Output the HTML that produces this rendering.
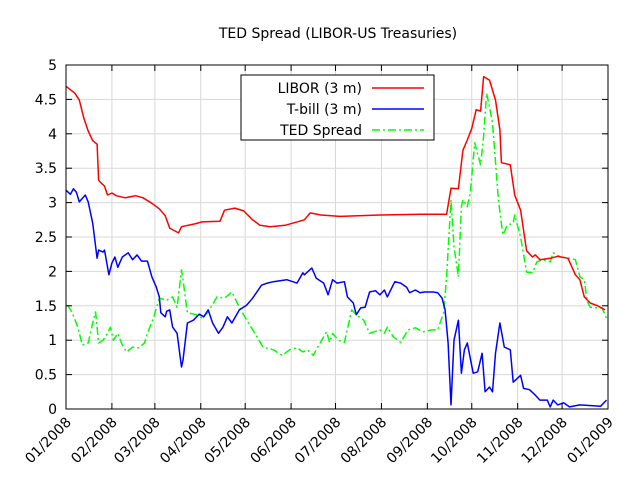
<!DOCTYPE html>
<html><head><meta charset="utf-8"><style>
body{margin:0;background:#fff}
svg text{font-family:"DejaVu Sans","Liberation Sans",sans-serif;font-size:14px;fill:#000}
</style></head><body>
<svg id="c" width="640" height="480" xmlns="http://www.w3.org/2000/svg">
<rect width="640" height="480" fill="#fff"/>
<text x="338" y="38" text-anchor="middle">TED Spread (LIBOR-US Treasuries)</text>
<g id="grid"></g><g id="series"></g><g id="axes"></g>
<g>
<rect x="241" y="75" width="193" height="65" fill="#fff" stroke="#000" stroke-width="1"/>
<text x="362" y="93" text-anchor="end">LIBOR (3 m)</text>
<line x1="372" y1="88" x2="424" y2="88" stroke="#f00" stroke-width="1.5"/>
<text x="362" y="114" text-anchor="end">T-bill (3 m)</text>
<line x1="372" y1="109" x2="424" y2="109" stroke="#00f" stroke-width="1.5"/>
<text x="362" y="135" text-anchor="end">TED Spread</text>
<line x1="372" y1="130" x2="424" y2="130" stroke="#0f0" stroke-width="1.5" stroke-dasharray="8,3,2,3"/>
</g>
</svg>
<script>
const monthDays=[0,31,60,91,121,152,182,213,244,274,305,335,366];
const monthLabels=["01/2008","02/2008","03/2008","04/2008","05/2008","06/2008","07/2008","08/2008","09/2008","10/2008","11/2008","12/2008","01/2009"];
const yTicks=[0,0.5,1,1.5,2,2.5,3,3.5,4,4.5,5];
const yTickLabels=["0","0.5","1","1.5","2","2.5","3","3.5","4","4.5","5"];
const liborDays=[0,6,9,12,15,18,21,22,23,26,28,31,34,40,47,52,58,63,67,70,76,78,87,92,104,107,114,120,126,131,138,148,161,165,172,185,212,239,257,260,265,268,271,274,277,280,282,286,290,293,294,300,303,307,311,315,317,320,327,332,339,344,347,350,354,359,364];
const liborVals=[4.69,4.59,4.49,4.23,4.04,3.90,3.85,3.33,3.30,3.24,3.11,3.14,3.10,3.07,3.10,3.07,2.99,2.91,2.81,2.63,2.56,2.65,2.69,2.72,2.73,2.89,2.92,2.88,2.75,2.67,2.65,2.67,2.75,2.85,2.82,2.80,2.82,2.83,2.83,3.21,3.20,3.76,3.91,4.08,4.35,4.33,4.83,4.78,4.49,4.06,3.58,3.55,3.11,2.89,2.30,2.21,2.24,2.17,2.19,2.22,2.19,1.95,1.88,1.63,1.54,1.50,1.44];
const tbillDays=[0,3,5,7,9,13,15,18,21,22,25,26,29,31,33,35,38,42,45,48,51,55,58,61,63,64,67,68,70,72,75,78,79,82,86,90,93,96,99,103,106,109,112,117,122,126,132,136,140,149,156,160,161,166,169,174,177,180,183,188,190,194,196,199,202,205,209,212,215,217,222,226,230,232,236,239,242,248,251,254,256,258,260,262,265,267,269,271,275,278,281,283,286,288,290,293,296,300,302,307,309,313,317,320,325,327,329,332,336,340,347,361,365];
const tbillVals=[3.18,3.12,3.20,3.15,3.01,3.11,3.01,2.70,2.19,2.31,2.28,2.31,1.95,2.12,2.21,2.06,2.21,2.27,2.17,2.24,2.15,2.15,1.92,1.77,1.63,1.40,1.34,1.42,1.44,1.19,1.10,0.61,0.71,1.25,1.29,1.38,1.34,1.44,1.25,1.10,1.19,1.34,1.25,1.44,1.51,1.61,1.80,1.83,1.85,1.88,1.83,1.98,1.95,2.05,1.90,1.83,1.66,1.88,1.83,1.85,1.63,1.54,1.37,1.47,1.48,1.70,1.72,1.66,1.73,1.63,1.85,1.83,1.77,1.69,1.73,1.69,1.70,1.70,1.69,1.61,1.44,0.96,0.06,1.00,1.29,0.52,0.86,0.96,0.52,0.54,0.81,0.25,0.32,0.25,0.81,1.25,0.90,0.86,0.39,0.49,0.30,0.28,0.20,0.13,0.13,0.03,0.13,0.06,0.09,0.03,0.06,0.04,0.13];
const tedDays=[1,4,8,11,15,18,20,22,25,28,30,32,35,38,41,45,49,53,55,59,63,68,72,75,78,79,82,88,92,96,102,107,112,117,122,129,133,140,146,151,156,160,163,167,170,176,178,180,184,188,193,196,201,205,212,215,217,221,226,231,236,241,247,251,255,257,260,262,265,267,268,271,273,276,280,282,284,286,288,292,295,298,302,303,307,311,315,318,322,327,329,334,340,344,347,350,352,354,359,362,365];
const tedVals=[1.51,1.41,1.19,0.93,0.96,1.25,1.41,0.96,1.00,1.10,1.19,1.00,1.10,0.93,0.83,0.90,0.89,0.96,1.10,1.32,1.61,1.58,1.63,1.48,2.02,1.88,1.40,1.37,1.32,1.41,1.63,1.61,1.70,1.48,1.29,1.05,0.90,0.86,0.78,0.86,0.89,0.83,0.86,0.78,0.90,1.12,0.97,1.10,1.00,0.97,1.44,1.37,1.29,1.10,1.15,1.10,1.19,1.05,0.97,1.15,1.18,1.12,1.15,1.15,1.40,1.92,3.04,2.36,1.92,2.94,3.04,2.94,3.14,3.87,3.55,3.96,4.59,4.39,4.16,3.04,2.53,2.67,2.70,2.82,2.50,1.99,1.98,2.14,2.17,2.14,2.27,2.21,2.19,2.17,1.92,1.88,1.56,1.48,1.47,1.47,1.32];
const L=66,R=608,T=65,B=409,NS="http://www.w3.org/2000/svg";
const xs=d=>L+(R-L)*d/366, ys=v=>B-(B-T)*v/5;
function mk(tag,attrs,parent){const e=document.createElementNS(NS,tag);for(const k in attrs)e.setAttribute(k,attrs[k]);parent.appendChild(e);return e;}
const grid=document.getElementById('grid'),axes=document.getElementById('axes'),ser=document.getElementById('series');
monthDays.forEach((d,i)=>{const x=xs(d);
 const g=mk('line',{x1:x,x2:x,y1:T,y2:B,stroke:'#d8d8d8','stroke-width':1},grid);
 
 
 mk('line',{x1:x,x2:x,y1:B,y2:B-6,stroke:'#000'},axes);
 mk('line',{x1:x,x2:x,y1:T,y2:T+6,stroke:'#000'},axes);
 const t=mk('text',{x:x+6,y:B+14,'text-anchor':'end',transform:`rotate(-45 ${x+6} ${B+14})`},axes);
 t.textContent=monthLabels[i];
 
 
});
yTicks.forEach((v,i)=>{const y=ys(v);
 const g=mk('line',{x1:L,x2:R,y1:y,y2:y,stroke:'#d8d8d8','stroke-width':1},grid);
 
 
 mk('line',{x1:L,x2:L+6,y1:y,y2:y,stroke:'#000'},axes);
 mk('line',{x1:R,x2:R-6,y1:y,y2:y,stroke:'#000'},axes);
 const t=mk('text',{x:L-9,y:y+5,'text-anchor':'end'},axes);
 t.textContent=yTickLabels[i];
 
 
});
const fr=mk('rect',{x:L,y:T,width:R-L,height:B-T,fill:'none',stroke:'#000','stroke-width':1},axes);


function line(days,vals,color,dash,name){
 const p=mk('polyline',{points:days.map((d,i)=>xs(d).toFixed(1)+','+ys(vals[i]).toFixed(1)).join(' '),fill:'none',stroke:color,'stroke-width':1.5,'stroke-linejoin':'round'},ser);
 if(dash)p.setAttribute('stroke-dasharray',dash);
 
 
}
line(tedDays,tedVals,'#0f0','8,3,2,3','ted-spread-line');
line(tbillDays,tbillVals,'#00f',null,'tbill-line');
line(liborDays,liborVals,'#f00',null,'libor-line');
</script>
</body></html>
